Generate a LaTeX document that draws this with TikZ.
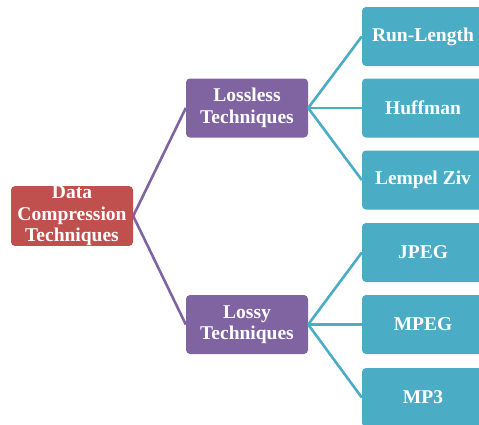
\documentclass[tikz,border=0pt]{standalone}
\usepackage{fontspec}
\setmainfont{Liberation Serif}
\definecolor{cred}{HTML}{C0504D}
\definecolor{cpurple}{HTML}{8064A2}
\definecolor{cteal}{HTML}{4BACC6}
\begin{document}
\begin{tikzpicture}[x=1pt,y=-1pt,
  box/.style={rectangle, rounded corners=4pt, minimum width=122pt, minimum height=59pt,
    inner sep=0pt, align=center, text=white,
    font=\fontsize{19.5}{21.5}\selectfont\bfseries},
  rootbox/.style={box, fill=cred},
  midbox/.style={box, fill=cpurple},
  leafbox/.style={box, fill=cteal},
  pline/.style={draw=cpurple, line width=2.6pt},
  tline/.style={draw=cteal, line width=2.6pt}]
\clip (0,0) rectangle (479,424);
\fill[white] (0,0) rectangle (479,424);
\node[rootbox] (data) at (72,216) {Data\\Compression\\Techniques};
\node[midbox] (lossless) at (247,108) {Lossless\\Techniques};
\node[midbox] (lossy) at (247,324.5) {Lossy\\Techniques};
\node[leafbox] (rl) at (423,36.5) {Run-Length};
\node[leafbox] (huff) at (423,108) {Huffman};
\node[leafbox] (lz) at (423,180) {Lempel Ziv};
\node[leafbox] (jpeg) at (423,252.5) {JPEG};
\node[leafbox] (mpeg) at (423,324.5) {MPEG};
\node[leafbox] (mp3) at (423,397.5) {MP3};
\draw[pline] (data.east) -- (lossless.west);
\draw[pline] (data.east) -- (lossy.west);
\draw[tline] (lossless.east) -- (rl.west);
\draw[tline] (lossless.east) -- (huff.west);
\draw[tline] (lossless.east) -- (lz.west);
\draw[tline] (lossy.east) -- (jpeg.west);
\draw[tline] (lossy.east) -- (mpeg.west);
\draw[tline] (lossy.east) -- (mp3.west);
\end{tikzpicture}
\end{document}
